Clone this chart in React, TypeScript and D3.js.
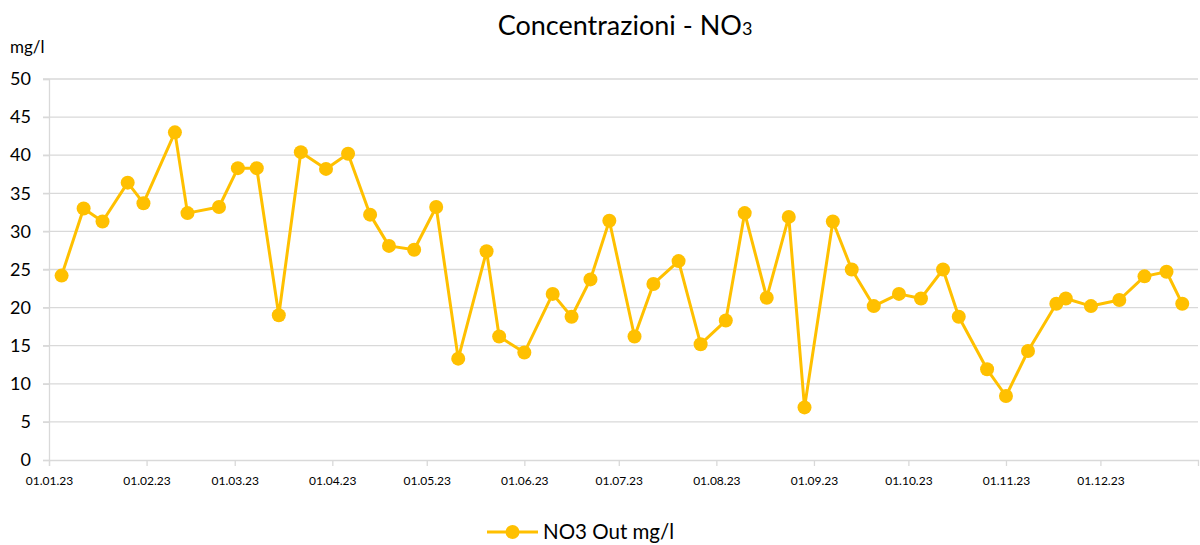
import React, { useEffect, useRef } from "react";
import * as d3 from "d3";

// sampling dates and NO3 values
const sampleDates = [
  "2023-01-05", "2023-01-12", "2023-01-18", "2023-01-26", "2023-01-31",
  "2023-02-10", "2023-02-14", "2023-02-24", "2023-03-02", "2023-03-08",
  "2023-03-15", "2023-03-22", "2023-03-30", "2023-04-06", "2023-04-13",
  "2023-04-19", "2023-04-27", "2023-05-04", "2023-05-11", "2023-05-20",
  "2023-05-24", "2023-06-01", "2023-06-10", "2023-06-16", "2023-06-22",
  "2023-06-28", "2023-07-06", "2023-07-12", "2023-07-20", "2023-07-27",
  "2023-08-04", "2023-08-10", "2023-08-17", "2023-08-24", "2023-08-29",
  "2023-09-07", "2023-09-13", "2023-09-20", "2023-09-28", "2023-10-05",
  "2023-10-12", "2023-10-17", "2023-10-26", "2023-11-01", "2023-11-08",
  "2023-11-17", "2023-11-20", "2023-11-28", "2023-12-07", "2023-12-15",
  "2023-12-22", "2023-12-27",
];
const no3Out = [
  24.2, 33.0, 31.3, 36.4, 33.7,
  43.0, 32.4, 33.2, 38.3, 38.3,
  19.0, 40.4, 38.2, 40.2, 32.2,
  28.1, 27.6, 33.2, 13.3, 27.4,
  16.2, 14.1, 21.8, 18.8, 23.7,
  31.4, 16.2, 23.1, 26.1, 15.2,
  18.3, 32.4, 21.3, 31.9, 6.9,
  31.3, 25.0, 20.2, 21.8, 21.2,
  25.0, 18.8, 11.9, 8.4, 14.3,
  20.5, 21.2, 20.2, 21.0, 24.1,
  24.7, 20.5,
];
const monthTicks = [
  "2023-01-01", "2023-02-01", "2023-03-01", "2023-04-01", "2023-05-01", "2023-06-01",
  "2023-07-01", "2023-08-01", "2023-09-01", "2023-10-01", "2023-11-01", "2023-12-01",
];
const yTicks = [0, 5, 10, 15, 20, 25, 30, 35, 40, 45, 50];
const seriesName = "NO3 Out mg/l";

const W = 1200;
const H = 545;
const FONT = "Lato, 'Open Sans', sans-serif";
const GOLD = "#FFC000";

export default function App() {
  const ref = useRef<SVGSVGElement>(null);

  useEffect(() => {
    const svg = d3.select(ref.current);
    svg.selectAll("*").remove();

    const parse = d3.timeParse("%Y-%m-%d");
    const data = sampleDates.map((d, i) => ({ date: parse(d) as Date, v: no3Out[i] }));

    const margin = { top: 79, right: 2, bottom: 85, left: 49 };

    const x = d3.scaleTime()
      .domain([parse("2023-01-01") as Date, parse("2024-01-01") as Date])
      .range([margin.left, W - margin.right]);
    const y = d3.scaleLinear().domain([0, 50]).range([H - margin.bottom, margin.top]);

    // gridlines
    svg.append("g")
      .selectAll("line")
      .data(yTicks.filter(t => t > 0))
      .join("line")
      .attr("x1", margin.left - 6)
      .attr("x2", W - margin.right)
      .attr("y1", d => y(d))
      .attr("y2", d => y(d))
      .attr("stroke", "#d9d9d9")
      .attr("stroke-width", 1.3);

    // y axis
    const yAxis = svg.append("g")
      .attr("transform", `translate(${margin.left},0)`)
      .call(d3.axisLeft(y).tickValues(yTicks).tickSize(6).tickPadding(12));
    yAxis.select(".domain").attr("stroke", "#d9d9d9").attr("stroke-width", 1.3);
    yAxis.selectAll(".tick line").attr("stroke", "#d9d9d9").attr("stroke-width", 1.3);
    yAxis.selectAll("text")
      .attr("font-family", FONT)
      .attr("font-size", 18)
      .attr("fill", "#000");

    // x axis
    const xAxis = svg.append("g")
      .attr("transform", `translate(0,${y(0)})`)
      .call(
        d3.axisBottom(x)
          .tickValues(monthTicks.map(d => parse(d) as Date))
          .tickFormat(d => d3.timeFormat("%d.%m.%y")(d as Date))
          .tickSize(6)
          .tickPadding(10)
      );
    xAxis.select(".domain").attr("stroke", "#d9d9d9").attr("stroke-width", 1.3);
    xAxis.selectAll(".tick line").attr("stroke", "#d9d9d9").attr("stroke-width", 1.3);
    xAxis.selectAll("text")
      .attr("font-family", FONT)
      .attr("font-size", 12)
      .attr("fill", "#000");

    // series line
    const line = d3.line<{ date: Date; v: number }>()
      .x(d => x(d.date))
      .y(d => y(d.v));
    svg.append("path")
      .datum(data)
      .attr("fill", "none")
      .attr("stroke", GOLD)
      .attr("stroke-width", 3)
      .attr("stroke-linejoin", "round")
      .attr("d", line);

    svg.append("g")
      .selectAll("circle")
      .data(data)
      .join("circle")
      .attr("cx", d => x(d.date))
      .attr("cy", d => y(d.v))
      .attr("r", 7)
      .attr("fill", GOLD);

    // title
    const title = svg.append("text")
      .attr("x", 625)
      .attr("y", 35)
      .attr("text-anchor", "middle")
      .attr("font-family", FONT)
      .attr("font-size", 27)
      .attr("fill", "#000");
    title.append("tspan").text("Concentrazioni  - NO");
    title.append("tspan").attr("font-size", 18).text("3");

    // unit label
    svg.append("text")
      .attr("x", 10)
      .attr("y", 53)
      .attr("font-family", FONT)
      .attr("font-size", 17)
      .attr("fill", "#000")
      .text("mg/l");

    // legend
    const lg = svg.append("g").attr("transform", "translate(487,532)");
    lg.append("line")
      .attr("x1", 0).attr("x2", 51)
      .attr("stroke", GOLD).attr("stroke-width", 3);
    lg.append("circle").attr("cx", 25.5).attr("cy", 0).attr("r", 7).attr("fill", GOLD);
    lg.append("text")
      .attr("x", 56)
      .attr("y", 7)
      .attr("font-family", FONT)
      .attr("font-size", 20.5)
      .attr("fill", "#000")
      .text(seriesName);
  }, []);

  return (
    <svg
      ref={ref}
      width={W}
      height={H}
      style={{ position: "absolute", left: 0, top: 0, background: "#fff" }}
    />
  );
}
